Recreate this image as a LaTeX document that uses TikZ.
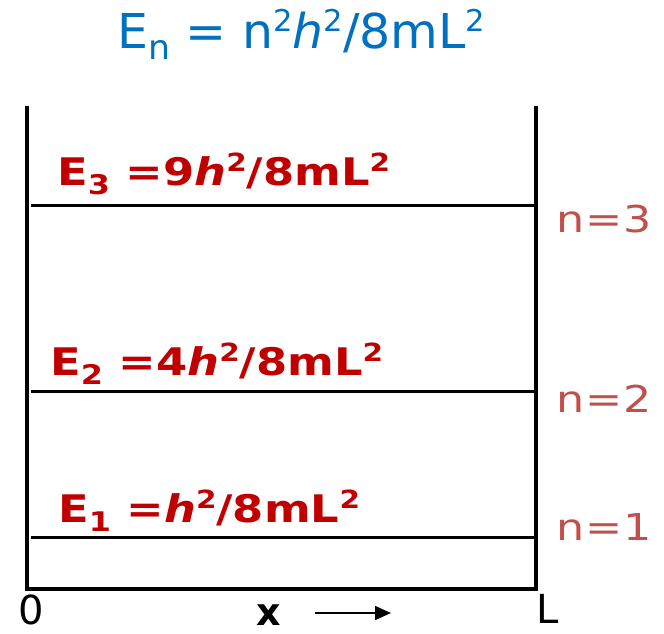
\documentclass[tikz,border=0pt]{standalone}
\usepackage{fontspec}
\setmainfont{DejaVu Sans}
\usetikzlibrary{arrows.meta}
\definecolor{titleblue}{RGB}{0,112,192}
\definecolor{labred}{RGB}{192,0,0}
\definecolor{nred}{RGB}{192,80,77}
\newcommand\elabsub[1]{\raisebox{-9pt}{\fontsize{27}{27}\selectfont #1}}
\newcommand\elabsup[1]{\raisebox{14pt}{\fontsize{25}{25}\selectfont #1}}
\newcommand\wideE[1]{\scalebox{1.18}[1]{#1}}
\newcommand\wideN[1]{\scalebox{1.2}[1]{#1}}
\begin{document}
\begin{tikzpicture}[x=1pt,y=-1pt,
  wall/.style={line width=3.4pt,line cap=rect},
  level/.style={line width=3pt},
  title/.style={text=titleblue,inner sep=0pt,anchor=base west,font=\fontsize{48}{48}\selectfont},
  elab/.style={text=labred,inner sep=0pt,anchor=base west,font=\fontsize{38}{38}\selectfont\bfseries},
  nlab/.style={text=nred,inner sep=0pt,anchor=base west,font=\fontsize{37}{37}\selectfont},
  axlab/.style={inner sep=0pt,anchor=base west,font=\fontsize{40}{40}\selectfont}]
\useasboundingbox (0,0) rectangle (664,633);
% title
\node[title] (title) at (117,48) {\scalebox{1.02}[1]{E\raisebox{-11pt}{\fontsize{34}{34}\selectfont n} = n\raisebox{17pt}{\fontsize{30}{30}\selectfont 2}\textit{h}\raisebox{17pt}{\fontsize{30}{30}\selectfont 2}/8mL\raisebox{17pt}{\fontsize{30}{30}\selectfont 2}}};
% box
\coordinate (tl) at (27,108);
\coordinate (bl) at (27,589);
\coordinate (br) at (536,589);
\coordinate (tr) at (536,108);
\draw[wall] (tl) -- (bl) -- (br) -- (tr);
% levels
\coordinate (l3a) at (31,205); \coordinate (l3b) at (536,205);
\coordinate (l2a) at (31,391); \coordinate (l2b) at (536,391);
\coordinate (l1a) at (31,537); \coordinate (l1b) at (536,537);
\draw[level] (l3a) -- (l3b);
\draw[level] (l2a) -- (l2b);
\draw[level] (l1a) -- (l1b);
% energy labels
\node[elab] (e3) at (57,185) {\wideE{E\elabsub{3} =9\textit{h}\elabsup{2}/8mL\elabsup{2}}};
\node[elab] (e2) at (50,375) {\wideE{E\elabsub{2} =4\textit{h}\elabsup{2}/8mL\elabsup{2}}};
\node[elab] (e1) at (58,522) {\wideE{E\elabsub{1} =\textit{h}\elabsup{2}/8mL\elabsup{2}}};
% n labels
\node[nlab] (n3) at (556,232) {\wideN{n\kern1pt=\kern1pt3}};
\node[nlab] (n2) at (556,412) {\wideN{n\kern1pt=\kern1pt2}};
\node[nlab] (n1) at (556,540) {\wideN{n\kern1pt=\kern1pt1}};
% axis labels
\node[axlab] (zero) at (18,624) {0};
\node[axlab,font=\fontsize{38}{38}\selectfont\bfseries] (xl) at (256,625) {x};
\node[axlab] (ll) at (536,623) {L};
\coordinate (arra) at (315,613);
\coordinate (arrb) at (391,613);
\draw[line width=1.6pt,-{Triangle[length=16pt,width=14pt]}] (arra) -- (arrb);
\end{tikzpicture}
\end{document}
